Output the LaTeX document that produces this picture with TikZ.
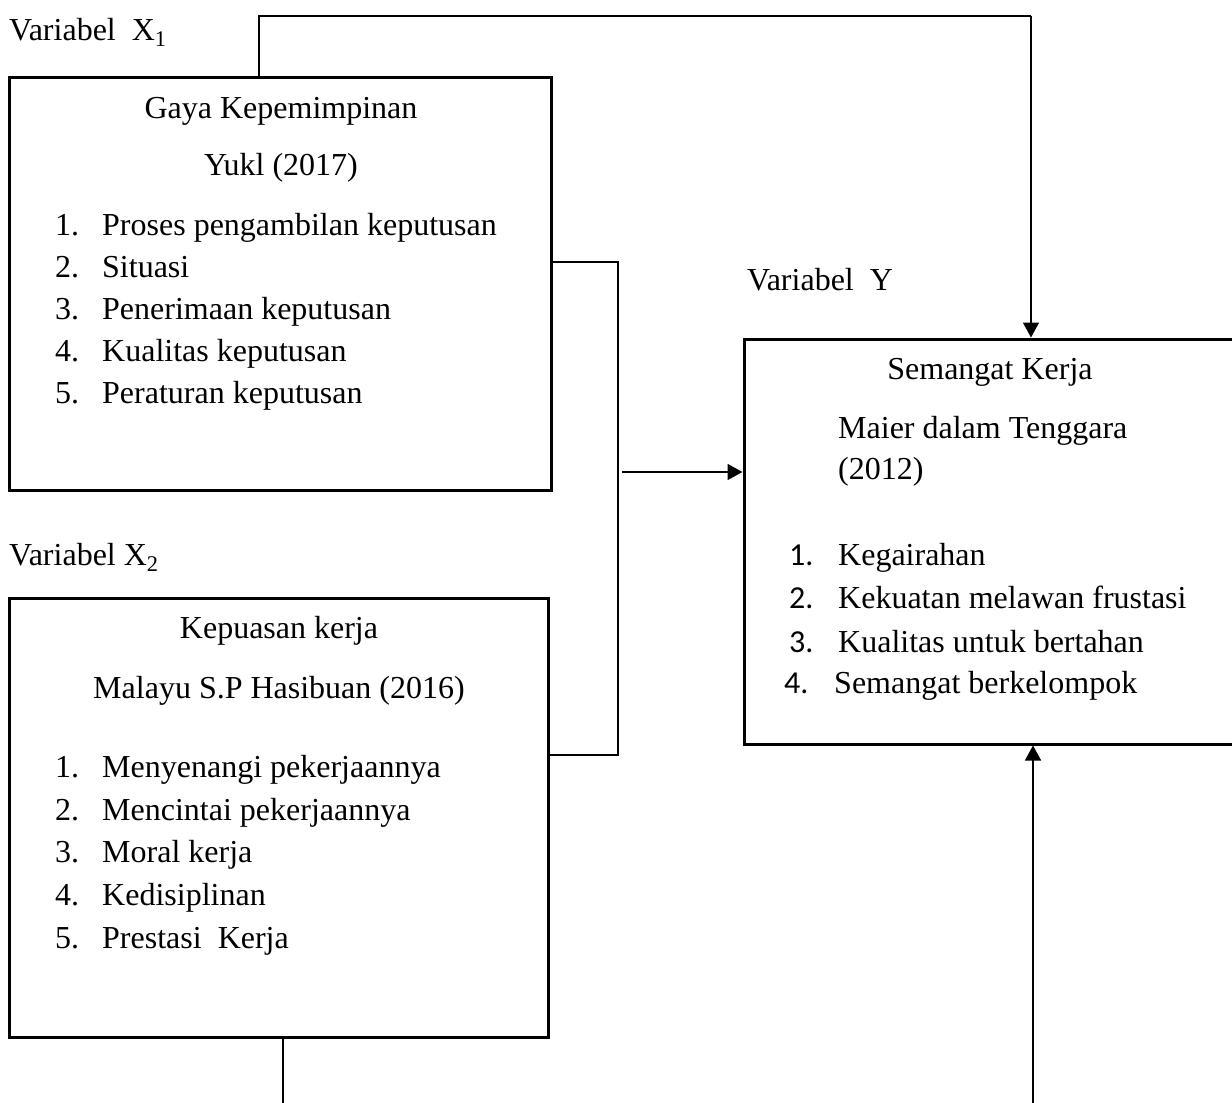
\documentclass[tikz,border=0pt]{standalone}
\usepackage{fontspec}
\setmainfont{Liberation Serif}
\newfontfamily\nomorfont{Carlito}
\usetikzlibrary{arrows.meta}
\tikzset{x=1pt,y=-1pt,
  every node/.style={font=\fontsize{32pt}{38pt}\selectfont,inner sep=0pt},
  kotak/.style={draw,line width=3pt},
  teks/.style={anchor=base west},
  judul/.style={anchor=base},
  garis/.style={line width=1.5pt},
  panah/.style={line width=1.5pt,-{Triangle[width=16pt,length=15pt]}}}

\begin{document}
\begin{tikzpicture}
            \useasboundingbox (0,0) rectangle (1232,1103);
            \clip (0,0) rectangle (1232,1103);

            % kotak variabel
            \node[kotak,minimum width=542pt,minimum height=413pt] (x1) at (280,283.5) {};
            \node[kotak,minimum width=539pt,minimum height=439pt] (x2) at (278.5,817.5) {};
            \node[kotak,minimum width=492pt,minimum height=405pt] (y) at (990,541.5) {};

            % label
            \node[teks] (labx1) at (9,40) {Variabel\ \ X\textsubscript{1}};
            \node[teks] (labx2) at (9,565) {Variabel X\textsubscript{2}};
            \node[teks] (laby) at (747,290) {Variabel\ \ Y};

            % isi X1
            \node[judul] (x1t1) at (281,118) {Gaya Kepemimpinan};
            \node[judul] (x1t2) at (281,175) {Yukl (2017)};
            \node[teks] (x1n1) at (55,235) {1.};
            \node[teks] (x1n2) at (55,277) {2.};
            \node[teks] (x1n3) at (55,319) {3.};
            \node[teks] (x1n4) at (55,361) {4.};
            \node[teks] (x1n5) at (55,403) {5.};
            \node[teks] (x1i1) at (102,235) {Proses pengambilan keputusan};
            \node[teks] (x1i2) at (102,277) {Situasi};
            \node[teks] (x1i3) at (102,319) {Penerimaan keputusan};
            \node[teks] (x1i4) at (102,361) {Kualitas keputusan};
            \node[teks] (x1i5) at (102,403) {Peraturan keputusan};

            % isi X2
            \node[judul] (x2t1) at (279,638) {Kepuasan kerja};
            \node[judul] (x2t2) at (279,698) {Malayu S.P Hasibuan (2016)};
            \node[teks] (x2n1) at (55,777) {1.};
            \node[teks] (x2n2) at (55,820) {2.};
            \node[teks] (x2n3) at (55,862) {3.};
            \node[teks] (x2n4) at (55,905) {4.};
            \node[teks] (x2n5) at (55,948) {5.};
            \node[teks] (x2i1) at (102,777) {Menyenangi pekerjaannya};
            \node[teks] (x2i2) at (102,820) {Mencintai pekerjaannya};
            \node[teks] (x2i3) at (102,862) {Moral kerja};
            \node[teks] (x2i4) at (102,905) {Kedisiplinan};
            \node[teks] (x2i5) at (102,948) {Prestasi\ \ Kerja};

            % isi Y
            \node[judul] (yt1) at (990,379) {Semangat Kerja};
            \node[teks] (yt2) at (838,438) {Maier dalam Tenggara};
            \node[teks] (yt3) at (838,479) {(2012)};
            \node[teks] (yn1) at (789,565) {\nomorfont 1.};
            \node[teks] (yn2) at (789,608) {\nomorfont 2.};
            \node[teks] (yn3) at (789,652) {\nomorfont 3.};
            \node[teks] (yn4) at (784,693) {\nomorfont 4.};
            \node[teks] (yi1) at (838,565) {Kegairahan};
            \node[teks] (yi2) at (838,608) {Kekuatan melawan frustasi};
            \node[teks] (yi3) at (838,652) {Kualitas untuk bertahan};
            \node[teks] (yi4) at (834,693) {Semangat berkelompok};

            % garis penghubung
            \coordinate (atasL) at (259,16);
            \coordinate (atasR) at (1031,16);
            \coordinate (kurT) at (618,262);
            \coordinate (kurB) at (618,755);
            \coordinate (tengah) at (622,472);
            \coordinate (bawahL) at (283,1103);
            \coordinate (bawahR) at (1033,1103);

            \draw[garis] (atasL |- x1.north) -- (atasL) -- (atasR);
            \draw[panah] (atasR) -- (atasR |- y.north);
            \draw[garis] (kurT -| x1.east) -- (kurT) -- (kurB) -- (kurB -| x2.east);
            \draw[panah] (tengah) -- (tengah -| y.west);
            \draw[garis] (bawahL |- x2.south) -- (bawahL);
            \draw[panah] (bawahR) -- (bawahR |- y.south);
        \end{tikzpicture}
\end{document}
